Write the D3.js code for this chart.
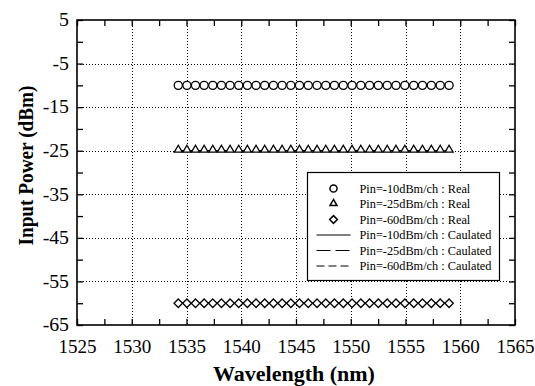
<!DOCTYPE html>
<html>
<head>
<meta charset="utf-8">
<script src="https://cdn.jsdelivr.net/npm/d3@7"></script>
<style>
  html, body { margin: 0; padding: 0; background: #fff; }
  svg { display: block; }
</style>
</head>
<body>
<svg id="chart" width="535" height="386"></svg>
<script>
// Channel wavelengths (nm), 100 GHz ITU grid, 195.4 THz down to 192.3 THz
const wavelengths = [
  1534.25, 1535.04, 1535.82, 1536.61, 1537.40, 1538.19, 1538.98, 1539.77,
  1540.56, 1541.35, 1542.14, 1542.94, 1543.73, 1544.53, 1545.32, 1546.12,
  1546.92, 1547.72, 1548.51, 1549.32, 1550.12, 1550.92, 1551.72, 1552.52,
  1553.33, 1554.13, 1554.94, 1555.75, 1556.55, 1557.36, 1558.17, 1558.98
];

// Measured input power per channel (dBm)
const real10 = [-10,-10,-10,-10,-10,-10,-10,-10,-10,-10,-10,-10,-10,-10,-10,-10,
                -10,-10,-10,-10,-10,-10,-10,-10,-10,-10,-10,-10,-10,-10,-10,-10];
const real25 = [-25,-25,-25,-25,-25,-25,-25,-25,-25,-25,-25,-25,-25,-25,-25,-25,
                -25,-25,-25,-25,-25,-25,-25,-25,-25,-25,-25,-25,-25,-25,-25,-25];
const real60 = [-60,-60,-60,-60,-60,-60,-60,-60,-60,-60,-60,-60,-60,-60,-60,-60,
                -60,-60,-60,-60,-60,-60,-60,-60,-60,-60,-60,-60,-60,-60,-60,-60];

// Calculated input power per channel (dBm)
const calc10 = real10.slice();
const calc25 = real25.slice();
const calc60 = real60.slice();

// Axis ticks
const xMajorTicks = [1525, 1530, 1535, 1540, 1545, 1550, 1555, 1560, 1565];
const xMinorTicks = [1527.5, 1532.5, 1537.5, 1542.5, 1547.5, 1552.5, 1557.5, 1562.5];
const yMajorTicks = [5, -5, -15, -25, -35, -45, -55, -65];
const yMinorTicks = [0, -10, -20, -30, -40, -50, -60];
const xGrid = [1530, 1535, 1540, 1545, 1550, 1555, 1560];
const yGrid = [-5, -15, -25, -35, -45, -55];

// Legend entries
const legendLabels = [
  "Pin=-10dBm/ch : Real",
  "Pin=-25dBm/ch : Real",
  "Pin=-60dBm/ch : Real",
  "Pin=-10dBm/ch : Caulated",
  "Pin=-25dBm/ch : Caulated",
  "Pin=-60dBm/ch : Caulated"
];

const FONT = "Liberation Serif";
const svg = d3.select("#chart");
const margin = { left: 77, right: 20, top: 20, bottom: 61 };
const W = 535, H = 386;
const x = d3.scaleLinear().domain([1525, 1565]).range([margin.left, W - margin.right]);
const y = d3.scaleLinear().domain([-65, 5]).range([H - margin.bottom, margin.top]);

const x0 = x.range()[0], x1 = x.range()[1];
const y0 = y.range()[0], y1 = y.range()[1];

// Dotted grid
const grid = svg.append("g").attr("stroke", "#000").attr("stroke-width", 1)
  .attr("stroke-dasharray", "1,2");
grid.selectAll("line.gx").data(xGrid).join("line")
  .attr("x1", d => Math.round(x(d)) + 0.5).attr("x2", d => Math.round(x(d)) + 0.5)
  .attr("y1", y1).attr("y2", y0);
grid.selectAll("line.gy").data(yGrid).join("line")
  .attr("y1", d => Math.round(y(d)) + 0.5).attr("y2", d => Math.round(y(d)) + 0.5)
  .attr("x1", x0).attr("x2", x1);

// Axes with inward ticks on all four sides
const tickLen = 6;
function styleAxis(g) {
  g.attr("font-family", FONT).attr("font-size", 18);
  g.select(".domain").remove();
  g.selectAll(".tick line").attr("stroke", "#000").attr("stroke-width", 1.3);
  g.selectAll(".tick text").attr("fill", "#000");
}
const allX = xMajorTicks.concat(xMinorTicks);
const allY = yMajorTicks.concat(yMinorTicks);

const xLabelStretch = 1.06, yLabelStretch = 1.1;
svg.append("g").attr("transform", `translate(0,${y0})`)
  .call(d3.axisBottom(x).tickValues(allX).tickSize(-tickLen).tickPadding(15.5)
    .tickFormat(d => xMajorTicks.includes(d) ? String(d) : ""))
  .call(styleAxis)
  .call(g => g.selectAll(".tick text").attr("transform", `scale(${xLabelStretch},1)`));
svg.append("g").attr("transform", `translate(0,${y1})`)
  .call(d3.axisTop(x).tickValues(allX).tickSize(-tickLen).tickFormat(""))
  .call(styleAxis);
const leftPad = 8;
svg.append("g").attr("transform", `translate(${x0},0)`)
  .call(d3.axisLeft(y).tickValues(allY).tickSize(-tickLen).tickPadding(leftPad)
    .tickFormat(d => yMajorTicks.includes(d) ? String(d) : ""))
  .call(styleAxis)
  .call(g => g.selectAll(".tick text")
    .attr("x", -leftPad / yLabelStretch)
    .attr("transform", `scale(${yLabelStretch},1)`));
svg.append("g").attr("transform", `translate(${x1},0)`)
  .call(d3.axisRight(y).tickValues(allY).tickSize(-tickLen).tickFormat(""))
  .call(styleAxis);

// Frame
svg.append("rect").attr("x", x0).attr("y", y1)
  .attr("width", x1 - x0).attr("height", y0 - y1)
  .attr("fill", "none").attr("stroke", "#000").attr("stroke-width", 1.6);

// Calculated curves
const line = d3.line().x(d => x(d[0])).y(d => y(d[1]));
const calcSeries = [
  { vals: calc10, dash: null },
  { vals: calc25, dash: "14,5" },
  { vals: calc60, dash: "8,4" }
];
calcSeries.forEach(s => {
  svg.append("path")
    .datum(wavelengths.map((w, i) => [w, s.vals[i]]))
    .attr("d", line).attr("fill", "none").attr("stroke", "#000")
    .attr("stroke-width", 1.2).attr("stroke-dasharray", s.dash);
});

// Symbol types: circle, a triangle resting on the value line, and a diamond
const diamondType = {
  draw(ctx, size) {
    const r = Math.sqrt(size / 2);
    ctx.moveTo(0, -r); ctx.lineTo(r, 0); ctx.lineTo(0, r); ctx.lineTo(-r, 0); ctx.closePath();
  }
};
const triType = {
  draw(ctx, size) {
    const s = Math.sqrt(size), h = s * 0.95, w = s * 1.1;
    ctx.moveTo(0, -h + 1.5); ctx.lineTo(w / 2, 1.5); ctx.lineTo(-w / 2, 1.5); ctx.closePath();
  }
};
const symCircle = d3.symbol().type(d3.symbolCircle).size(52);
const symTri = d3.symbol().type(triType).size(54);
const symDiamond = d3.symbol().type(diamondType).size(36);

// Measured markers
const realSeries = [
  { vals: real10, sym: symCircle },
  { vals: real25, sym: symTri },
  { vals: real60, sym: symDiamond }
];
realSeries.forEach(s => {
  svg.append("g").selectAll("path")
    .data(wavelengths.map((w, i) => [w, s.vals[i]]))
    .join("path")
    .attr("transform", d => `translate(${x(d[0])},${y(d[1])})`)
    .attr("d", s.sym())
    .attr("fill", "#fff").attr("stroke", "#000").attr("stroke-width", 1.3);
});

// Legend
const lg = svg.append("g").attr("transform", "translate(307.5,172.5)");
lg.append("rect").attr("width", 192).attr("height", 108)
  .attr("fill", "#fff").attr("stroke", "#000").attr("stroke-width", 1.2);
const rowY = i => 16 + i * 15.5;
const legSyms = [
  d3.symbol().type(d3.symbolCircle).size(40),
  d3.symbol().type(triType).size(40),
  d3.symbol().type(diamondType).size(30)
];
const legDash = [null, "14,5", "8,4"];
legendLabels.forEach((label, i) => {
  if (i < 3) {
    lg.append("path").attr("transform", `translate(26,${rowY(i)})`)
      .attr("d", legSyms[i]())
      .attr("fill", "#fff").attr("stroke", "#000").attr("stroke-width", 1.5);
  } else {
    lg.append("line").attr("x1", 9).attr("x2", 43)
      .attr("y1", rowY(i)).attr("y2", rowY(i))
      .attr("stroke", "#000").attr("stroke-width", 1.2)
      .attr("stroke-dasharray", legDash[i - 3]);
  }
  lg.append("text").attr("x", 52).attr("y", rowY(i)).attr("dy", "0.35em")
    .attr("font-family", FONT).attr("font-size", 12.3).attr("fill", "#000").text(label);
});

// Axis titles
svg.append("text")
  .attr("transform", `translate(${(x0 + x1) / 2 - 2},381) scale(1.1,1)`)
  .attr("text-anchor", "middle").attr("font-family", FONT)
  .attr("font-size", 20).attr("font-weight", "bold").attr("fill", "#000")
  .text("Wavelength (nm)");
svg.append("text")
  .attr("transform", `translate(33,165.5) rotate(-90) scale(0.94,1)`)
  .attr("text-anchor", "middle").attr("font-family", FONT)
  .attr("font-size", 20.5).attr("font-weight", "bold").attr("fill", "#000")
  .text("Input Power (dBm)");
</script>
</body>
</html>
